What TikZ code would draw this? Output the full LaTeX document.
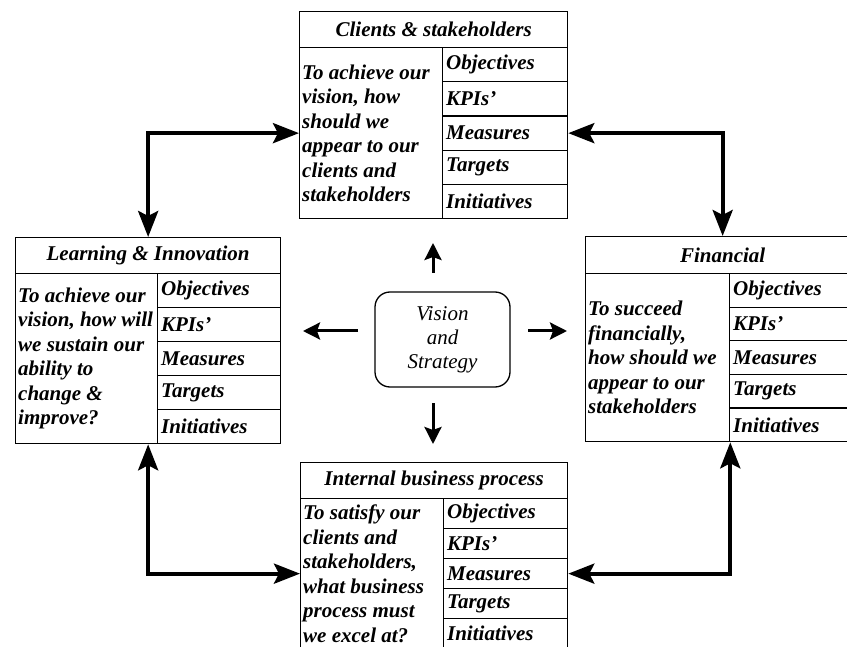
\documentclass[tikz,border=0pt]{standalone}
\usepackage{fontspec}
\setmainfont{Liberation Serif}
\usetikzlibrary{arrows.meta}

% One balanced-scorecard perspective: title bar, question panel and five rows.
% #1 prefix, #2 left x, #3 top y, #4 width, #5 question-panel width,
% #6 title height, #7 row height, #8 title, #9 question text
\newcommand\bsccard[9]{%
  \pgfmathsetmacro\cardcellw{#4-#5}%
  \pgfmathsetmacro\cardcelltw{#4-#5-7}%
  \pgfmathsetmacro\cardbodyh{5*#7}%
  \node[titlebox, minimum width=#4pt, minimum height=#6pt] (#1-title) at (#2,#3) {#8};
  \node[askbox, minimum width=#5pt, minimum height=\cardbodyh pt] (#1-q) at (#2,#3+#6) {};
  \node[asktext] (#1-qt) at ([xshift=3pt]#1-q.west) {#9};
  \foreach \lbl/\nm [count=\i from 0] in {Objectives/obj,KPIs'/kpi,Measures/meas,Targets/targ,Initiatives/init}
    \node[cellbox, minimum width=\cardcellw pt, minimum height=#7pt, text width=\cardcelltw pt]
      (#1-\nm) at (#2+#5,#3+#6+\i*#7) {\lbl};
}

\begin{document}
\begin{tikzpicture}[x=1pt,y=-1pt,
  cardline/.style={draw=black, line width=1.3pt, fill=white},
  titlebox/.style={cardline, anchor=north west, inner sep=0pt,
    font=\fontsize{21}{24}\selectfont\bfseries\itshape},
  askbox/.style={cardline, anchor=north west, inner sep=0pt},
  asktext/.style={anchor=west, inner sep=0pt, align=left,
    font=\fontsize{21}{24.5}\selectfont\bfseries\itshape},
  cellbox/.style={cardline, anchor=north west, inner xsep=3.5pt, inner ysep=0pt,
    align=left, font=\fontsize{21}{24}\selectfont\bfseries\itshape},
  hub/.style={draw=black, line width=1.3pt, rounded corners=15pt, fill=white,
    minimum width=135pt, minimum height=95pt, inner sep=0pt, align=center,
    font=\fontsize{21}{24}\selectfont\itshape},
  bigarrow/.style={draw=black, line width=4pt,
    {Stealth[length=26pt,width=20pt,inset=5pt]}-{Stealth[length=26pt,width=20pt,inset=5pt]}},
  smallarrow/.style={draw=black, line width=3pt,
    -{Stealth[length=17pt,width=17pt,inset=3pt]}}
]
\useasboundingbox (0,0) rectangle (847,647);
\clip (0,0) rectangle (847,647);
\fill[white] (0,0) rectangle (847,647);

% the four perspectives
\bsccard{cl}{299}{11}{268}{143}{36}{34.2}{Clients \& stakeholders}
  {To achieve our\\vision, how\\should we\\appear to our\\clients and\\stakeholders}
\bsccard{li}{15}{237}{265}{142}{36}{34}{Learning \& Innovation}
  {To achieve our\\vision, how will\\we sustain our\\ability to\\change \&\\improve?}
\bsccard{fi}{585}{236}{274}{144}{37}{33.6}{Financial}
  {\fontsize{21}{21.5}\selectfont To succeed\\financially,\\how should we\\appear to our\\stakeholders}
\bsccard{ib}{300}{462}{267}{143}{36}{30}{Internal business process}
  {To satisfy our\\clients and\\stakeholders,\\what business\\process must\\we excel at?}

% centre
\node[hub] (vs) at (442.5,339.5) {Vision\\and\\Strategy};

% short arrows pointing out of the centre
\coordinate (up-s) at (433,273);   \coordinate (up-e) at (433,243);
\coordinate (dn-s) at (433,403);   \coordinate (dn-e) at (433,444);
\coordinate (lf-s) at (358,331);   \coordinate (lf-e) at (303,331);
\coordinate (rt-s) at (528,331);   \coordinate (rt-e) at (567,331);
\draw[smallarrow] (up-s) -- (up-e);
\draw[smallarrow] (dn-s) -- (dn-e);
\draw[smallarrow] (lf-s) -- (lf-e);
\draw[smallarrow] (rt-s) -- (rt-e);

% links between neighbouring perspectives
\draw[bigarrow] (cl-q.west) -| (li-title.north);
\draw[bigarrow] (cl-meas.east) -| (fi-title.north);
\draw[bigarrow] (li-title.center |- li-q.south) |- (ib-q.west);
\draw[bigarrow] (fi-q.south east) |- (ib-meas.east);
\end{tikzpicture}
\end{document}
